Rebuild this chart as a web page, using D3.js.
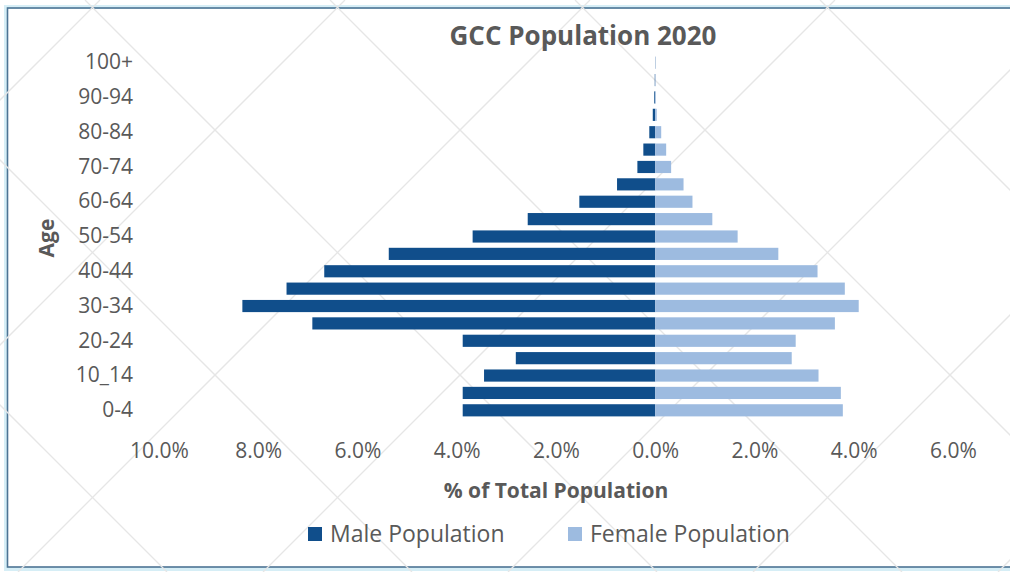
<!DOCTYPE html>
<html>
<head>
<meta charset="utf-8">
<script src="https://cdn.jsdelivr.net/npm/d3@7"></script>
<style>
  body { margin: 0; background: #fff; }
  text { font-family: "Open Sans", "Noto Sans", sans-serif; fill: #595959; }
</style>
</head>
<body>
<div id="chart"></div>
<script>
// age groups, bottom to top
const ageGroups = ['0-4', '5-9', '10_14', '15-19', '20-24', '25-29', '30-34', '35-39', '40-44', '45-49',
  '50-54', '55-59', '60-64', '65-69', '70-74', '75-79', '80-84', '85-89', '90-94', '95-99', '100+'];

// % of total population
const malePct = [3.88, 3.88, 3.45, 2.81, 3.88, 6.91, 8.32, 7.43, 6.67, 5.37,
  3.68, 2.57, 1.53, 0.77, 0.36, 0.24, 0.12, 0.05, 0.02, 0.01, 0.005];
const femalePct = [3.78, 3.74, 3.29, 2.75, 2.83, 3.62, 4.10, 3.82, 3.27, 2.48,
  1.66, 1.15, 0.75, 0.57, 0.32, 0.22, 0.12, 0.03, 0.01, 0.005, 0.003];

const xTicks = [-10, -8, -6, -4, -2, 0, 2, 4, 6];
const seriesNames = ['Male Population', 'Female Population'];
const seriesColors = ['#104e8b', '#9dbbe0'];

const width = 1010, height = 572;

const svg = d3.select('#chart').append('svg')
    .attr('width', width)
    .attr('height', height);

// frame
svg.append('rect')
    .attr('x', 6).attr('y', 7)
    .attr('width', width + 10).attr('height', 562)
    .attr('fill', 'none')
    .attr('stroke', '#d6eef6')
    .attr('stroke-width', 4);
svg.append('rect')
    .attr('x', 7.5).attr('y', 8)
    .attr('width', width + 10).attr('height', 559)
    .attr('fill', 'none')
    .attr('stroke', '#4d7494')
    .attr('stroke-width', 1.6);

// faint diagonal background lines
const bg = svg.append('g').attr('stroke', '#e6e6e6').attr('stroke-width', 1.3);
for (let c = -650; c < 1300; c += 245) {
  bg.append('line').attr('x1', c).attr('y1', 0).attr('x2', c + 572).attr('y2', 572);
}
for (let c = 100; c < 1700; c += 245) {
  bg.append('line').attr('x1', c).attr('y1', 0).attr('x2', c - 572).attr('y2', 572);
}

const x = d3.scaleLinear()
    .domain([-10, 6])
    .range([159, 953]);

const y = d3.scaleBand()
    .domain(ageGroups)
    .range([419, 54])
    .paddingInner(0.3)
    .paddingOuter(0.15);

const data = ageGroups.map((g, i) => ({ age: g, male: malePct[i], female: femalePct[i] }));

const chart = svg.append('g');

chart.selectAll('.male')
    .data(data)
  .join('rect')
    .attr('class', 'male')
    .attr('x', d => x(-d.male))
    .attr('y', d => y(d.age))
    .attr('width', d => x(0) - x(-d.male))
    .attr('height', y.bandwidth())
    .attr('fill', seriesColors[0]);

chart.selectAll('.female')
    .data(data)
  .join('rect')
    .attr('class', 'female')
    .attr('x', x(0))
    .attr('y', d => y(d.age))
    .attr('width', d => x(d.female) - x(0))
    .attr('height', y.bandwidth())
    .attr('fill', seriesColors[1]);

// y axis (every other label)
const yAxis = d3.axisLeft(y)
    .tickValues(ageGroups.filter((d, i) => i % 2 === 0))
    .tickSize(0)
    .tickPadding(0);
const yg = svg.append('g')
    .attr('transform', 'translate(133,0)')
    .call(yAxis);
yg.select('.domain').remove();
yg.selectAll('text')
    .attr('font-size', 21)
    .attr('fill', '#595959')
    .attr('font-family', '"Open Sans", sans-serif');

// x axis
const xAxis = d3.axisBottom(x)
    .tickValues(xTicks)
    .tickSize(0)
    .tickFormat(d => Math.abs(d).toFixed(1) + '%');
const xg = svg.append('g')
    .attr('transform', 'translate(0,440)')
    .call(xAxis);
xg.select('.domain').remove();
xg.selectAll('text')
    .attr('font-size', 21)
    .attr('fill', '#595959')
    .attr('font-family', '"Open Sans", sans-serif');

// titles
svg.append('text')
    .attr('x', 583).attr('y', 45)
    .attr('text-anchor', 'middle')
    .attr('font-size', 26)
    .attr('font-weight', 'bold')
    .text('GCC Population 2020');

svg.append('text')
    .attr('x', 556).attr('y', 498)
    .attr('text-anchor', 'middle')
    .attr('font-size', 21)
    .attr('font-weight', 'bold')
    .text('% of Total Population');

svg.append('text')
    .attr('transform', 'translate(54,238) rotate(-90)')
    .attr('text-anchor', 'middle')
    .attr('font-size', 21)
    .attr('font-weight', 'bold')
    .text('Age');

// legend
const legendX = [308, 568];
const legend = svg.append('g').selectAll('g')
    .data(seriesNames)
  .join('g')
    .attr('transform', (d, i) => `translate(${legendX[i]},527)`);
legend.append('rect')
    .attr('width', 14).attr('height', 14)
    .attr('fill', (d, i) => seriesColors[i]);
legend.append('text')
    .attr('x', 22).attr('y', 7)
    .attr('dy', '0.35em')
    .attr('font-size', 23)
    .text(d => d);
</script>
</body>
</html>
